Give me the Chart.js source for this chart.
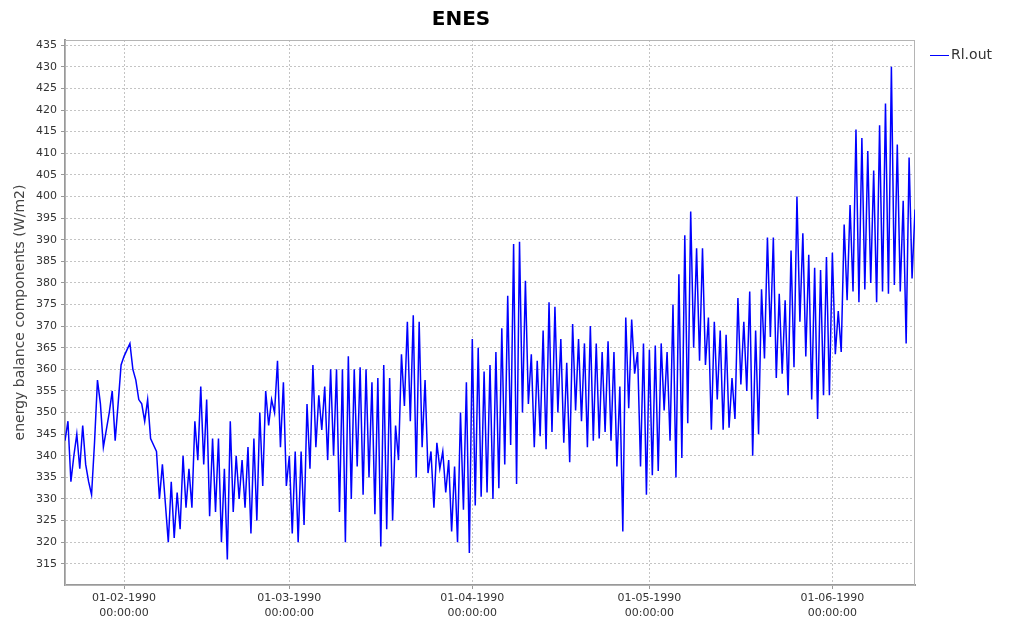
<!DOCTYPE html>
<html>
<head>
<meta charset="utf-8">
<title>ENES</title>
<script src="https://cdn.jsdelivr.net/npm/chart.js@4.4.1/dist/chart.umd.min.js"></script>
<style>
  html, body { margin: 0; padding: 0; background: #ffffff; }
  #chart-box { width: 1015px; height: 624px; }
</style>
</head>
<body>
<div id="chart-box"><canvas id="enesChart"></canvas></div>
<script>
'use strict'

//++++++++++++++ Data ++++++++++++++//
let chartTitle = 'ENES';
let seriesName = 'Rl.out';
let yAxisTitle = 'energy balance components (W/m2)';
let startDate = '22-01-1990';   // first sample, 00:00:00
let stepHours = 12;
let rlOut = [
  343.5, 348, 334, 340, 345, 337, 347, 338, 334, 331,
  343, 357.5, 352, 342, 346, 350, 355, 343.5, 352, 361,
  363, 364.5, 366, 360, 357.5, 353, 352, 348, 353, 344,
  342.5, 341, 330, 338, 329, 320, 334, 321, 331.5, 323,
  340, 328, 337, 328, 348, 339, 356, 338, 353, 326,
  344, 327, 344, 320, 337, 316, 348, 327, 340, 330,
  339, 328, 342, 322, 344, 325, 350, 333, 355, 347,
  353, 350, 362, 342, 357, 333, 340, 322, 341, 320,
  341, 324, 352, 337, 361, 342, 354, 346, 356, 339,
  360, 340, 360, 327, 360, 320, 363, 330, 360, 337.5,
  360.5, 331, 360, 335, 357, 326.5, 358, 319, 361, 323,
  358, 325, 347, 339, 363.5, 351.5, 371, 348, 372.5, 335,
  371, 342, 357.5, 336, 341, 328, 343, 337, 341, 331.5,
  339, 322.5, 337.5, 320, 350, 327.5, 357, 317.5, 367, 328.5,
  365, 330.5, 359.5, 331.5, 361, 330, 364, 332.5, 369.5, 338,
  377, 342.5, 389, 333.5, 389.5, 350, 380.5, 352, 363.5, 342,
  362, 344.5, 369, 341.5, 375.5, 345.5, 374.5, 350, 367, 343,
  361.5, 338.5, 370.5, 350.5, 367, 348, 366, 342, 370, 343.5,
  366, 344, 364, 345.5, 366.5, 343.5, 364, 337.5, 356, 322.5,
  372, 351, 371.5, 359, 364, 337.5, 366, 331, 364.5, 335.5,
  365.5, 336.5, 366, 350.5, 364, 343.5, 375, 335, 382, 339.5,
  391, 347.5, 396.5, 365, 388, 362, 388, 361, 372, 346,
  371, 353, 369, 346, 368, 346.5, 358, 348.5, 376.5, 356.5,
  371, 355, 378, 340, 369, 345, 378.5, 362.5, 390.5, 367.5,
  390.5, 358, 377.5, 359, 376, 354, 387.5, 360.5, 400, 371,
  391.5, 363, 386.5, 353, 383.5, 348.5, 383, 354, 386, 354,
  387, 363.5, 373.5, 364, 393.5, 376, 398, 378, 415.5, 375.5,
  413.5, 378.5, 410.5, 380, 406, 375.5, 416.5, 378, 421.5, 377.5,
  430, 379.5, 412, 378, 399, 366, 409, 381, 397
];
let xTickDates = ['01-02-1990', '01-03-1990', '01-04-1990', '01-05-1990', '01-06-1990'];
let xTickTimes = ['00:00:00', '00:00:00', '00:00:00', '00:00:00', '00:00:00'];
let yTicks = [315, 320, 325, 330, 335, 340, 345, 350, 355, 360, 365, 370, 375, 380,
  385, 390, 395, 400, 405, 410, 415, 420, 425, 430, 435];

//++++++++++++++ Helpers ++++++++++++++//
function parseDay(str) {
  let parts = str.split('-');
  return Date.UTC(Number(parts[2]), Number(parts[1]) - 1, Number(parts[0]));
}

// days since the first sample
function dayOffset(str) {
  return (parseDay(str) - parseDay(startDate)) / 86400000;
}

function buildPoints() {
  let points = [];
  for (let i = 0; i < rlOut.length; i++) {
    points.push({ x: i * stepHours / 24, y: rlOut[i] });
  }
  return points;
}

let tickDays = xTickDates.map(d => dayOffset(d));
let lastDay = (rlOut.length - 1) * stepHours / 24;

//++++++++++++++ Plot frame + legend ++++++++++++++//
let framePlugin = {
  id: 'frame',
  beforeDatasetsDraw(chart) {
    let ctx = chart.ctx;
    let a = chart.chartArea;
    ctx.save();
    ctx.strokeStyle = '#b4b4b4';
    ctx.lineWidth = 1;
    ctx.strokeRect(a.left + 0.5, a.top + 0.5, a.right - a.left - 1, a.bottom - a.top);
    ctx.restore();
  },
  afterDraw(chart) {
    let ctx = chart.ctx;
    let a = chart.chartArea;
    let ds = chart.data.datasets[0];
    let ly = a.top + 15;
    ctx.save();
    ctx.strokeStyle = ds.borderColor;
    ctx.lineWidth = 1;
    ctx.beginPath();
    ctx.moveTo(a.right + 15, ly + 0.5);
    ctx.lineTo(a.right + 34, ly + 0.5);
    ctx.stroke();
    ctx.fillStyle = '#333333';
    ctx.font = '14px "DejaVu Sans"';
    ctx.textBaseline = 'middle';
    ctx.fillText(ds.label, a.right + 36, ly);
    ctx.restore();
  }
};

//++++++++++++++ Chart ++++++++++++++//
const ctx = document.getElementById('enesChart').getContext('2d');
const enesChart = new Chart(ctx, {
  type: 'line',
  data: {
    datasets: [{
      label: seriesName,
      data: buildPoints(),
      borderColor: '#0000ff',
      borderWidth: 1.5,
      pointRadius: 0,
      tension: 0,
      fill: false
    }]
  },
  options: {
    responsive: true,
    maintainAspectRatio: false,
    animation: false,
    layout: { padding: { left: 7, right: 100, top: 0, bottom: 0 } },
    plugins: {
      legend: { display: false },
      tooltip: { enabled: false },
      title: {
        display: true,
        text: chartTitle,
        color: '#000000',
        font: { family: '"DejaVu Sans"', size: 20, weight: 'bold', lineHeight: 1.2 },
        padding: { top: 8, bottom: 8 }
      }
    },
    scales: {
      x: {
        type: 'linear',
        min: 0,
        max: lastDay,
        afterBuildTicks: scale => {
          scale.ticks = tickDays.map(v => ({ value: v }));
        },
        afterFit: scale => { scale.height = 39; },
        ticks: {
          autoSkip: false,
          maxRotation: 0,
          padding: 2,
          color: '#333333',
          font: { family: '"DejaVu Sans"', size: 11, lineHeight: 1.36 },
          callback: (value, index) => [xTickDates[index], xTickTimes[index]]
        },
        grid: {
          color: '#c4c4c4',
          tickLength: 4,
          tickColor: '#999999',
          tickBorderDash: []
        },
        // in v4 border.dash sets the dash of the grid lines
        border: { color: '#999999', width: 2, dash: [2, 2] }
      },
      y: {
        min: 310.1,
        max: 436.2,
        afterBuildTicks: scale => {
          scale.ticks = yTicks.map(v => ({ value: v }));
        },
        afterFit: scale => { scale.width = 58; },
        ticks: {
          autoSkip: false,
          padding: 4,
          color: '#333333',
          font: { family: '"DejaVu Sans"', size: 11 },
          callback: value => String(value)
        },
        grid: {
          color: '#c4c4c4',
          tickLength: 4,
          tickColor: '#999999',
          tickBorderDash: []
        },
        border: { color: '#999999', width: 2, dash: [2, 2] },
        title: {
          display: true,
          text: yAxisTitle,
          color: '#444444',
          font: { family: '"DejaVu Sans"', size: 14, lineHeight: 1.2 },
          padding: { top: 5, bottom: 0 }
        }
      }
    }
  },
  plugins: [framePlugin]
});
</script>
</body>
</html>
